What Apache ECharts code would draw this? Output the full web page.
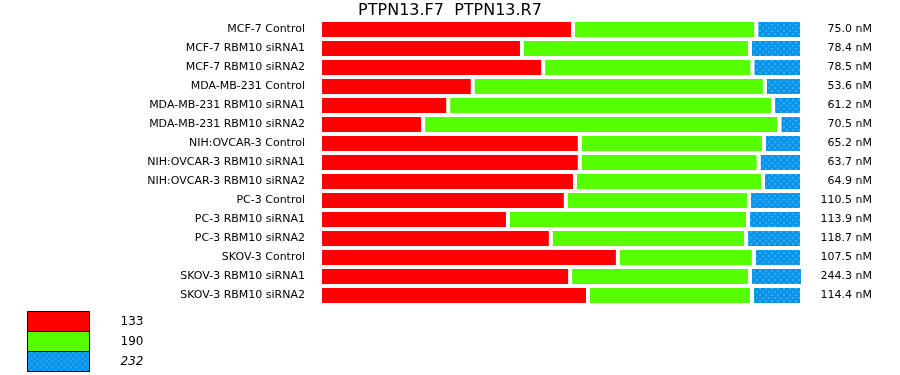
<!DOCTYPE html>
<html>
<head>
<meta charset="utf-8">
<script src="https://cdn.jsdelivr.net/npm/echarts@6/dist/echarts.min.js"></script>
<style>html,body{margin:0;padding:0;background:#fff}#c{width:900px;height:375px}</style>
</head>
<body>
<div id="c"></div>
<script>
var categories = ['MCF-7 Control','MCF-7 RBM10 siRNA1','MCF-7 RBM10 siRNA2','MDA-MB-231 Control','MDA-MB-231 RBM10 siRNA1','MDA-MB-231 RBM10 siRNA2','NIH:OVCAR-3 Control','NIH:OVCAR-3 RBM10 siRNA1','NIH:OVCAR-3 RBM10 siRNA2','PC-3 Control','PC-3 RBM10 siRNA1','PC-3 RBM10 siRNA2','SKOV-3 Control','SKOV-3 RBM10 siRNA1','SKOV-3 RBM10 siRNA2'];
var rightLabels = ['75.0 nM','78.4 nM','78.5 nM','53.6 nM','61.2 nM','70.5 nM','65.2 nM','63.7 nM','64.9 nM','110.5 nM','113.9 nM','118.7 nM','107.5 nM','244.3 nM','114.4 nM'];
var s133 = [52.5,41.9,46.3,31.7,26.6,21.4,53.9,53.9,52.9,51.0,39.0,47.9,61.8,51.9,55.6];
var s190 = [38.0,47.3,43.4,60.6,67.4,73.9,38.2,37.1,39.0,38.0,49.8,40.5,28.2,37.3,34.0];
var s232 = [9.5,10.8,10.3,7.7,6.0,4.7,7.9,9.0,8.1,11.0,11.2,11.6,10.0,11.0,10.4];
var seriesNames = ['133','190','232'];
var titleText = 'PTPN13.F7  PTPN13.R7';

var FONT = 'DejaVu Sans';
var chart = echarts.init(document.getElementById('c'), null, {renderer:'canvas'});
function mk(name, data, color, decal){
  var st = {color: color, borderColor: '#fff', borderWidth: 2};
  if (decal) st.decal = decal;
  return {name: name, type: 'bar', stack: 'all', data: data, barCategoryGap: '0%', clip: false,
    itemStyle: st, emphasis: {disabled: true}, animation: false};
}
var blueDecal = {symbol: 'circle', symbolSize: 1, color: '#3cb4ff',
  dashArrayX: [[2,4],[0,3,2,1]], dashArrayY: [2,1], rotation: 0};
chart.setOption({
  animation: false,
  backgroundColor: '#fff',
  title: {text: titleText, left: 'center', top: 0, padding: [3,0,0,0],
    textStyle: {fontFamily: FONT, fontSize: 16, fontWeight: 'normal', color: '#000'}},
  legend: {orient: 'vertical', left: 27, top: 311, padding: 0, height: 64, itemWidth: 62, itemHeight: 20, itemGap: -1,
    selectedMode: false, icon: 'rect',
    itemStyle: {borderColor: '#000', borderWidth: 1},
    textStyle: {fontFamily: FONT, fontSize: 12, color: '#000', padding: [0,0,0,26]},
    data: [{name: seriesNames[0], icon: 'rect'}, {name: seriesNames[1], icon: 'rect'}, {name: seriesNames[2], icon: 'rect', textStyle: {fontStyle: 'italic'}}]},
  grid: {left: 320, right: 98, top: 20, bottom: 70, containLabel: false},
  xAxis: {type: 'value', min: 0, max: 100, show: false},
  yAxis: [
    {type: 'category', data: categories, inverse: true,
      axisLine: {show: false}, axisTick: {show: false}, splitLine: {show: false},
      axisLabel: {fontFamily: FONT, fontSize: 11, color: '#000', margin: 15}},
    {type: 'category', data: rightLabels, inverse: true, position: 'right',
      axisLine: {show: false}, axisTick: {show: false}, splitLine: {show: false},
      axisLabel: {fontFamily: FONT, fontSize: 11, color: '#000', margin: 70, align: 'right'}}
  ],
  series: [
    mk(seriesNames[0], s133, '#ff0000'),
    mk(seriesNames[1], s190, '#55ff00'),
    mk(seriesNames[2], s232, '#0b93e8', blueDecal)
  ]
});
</script>
</body>
</html>
